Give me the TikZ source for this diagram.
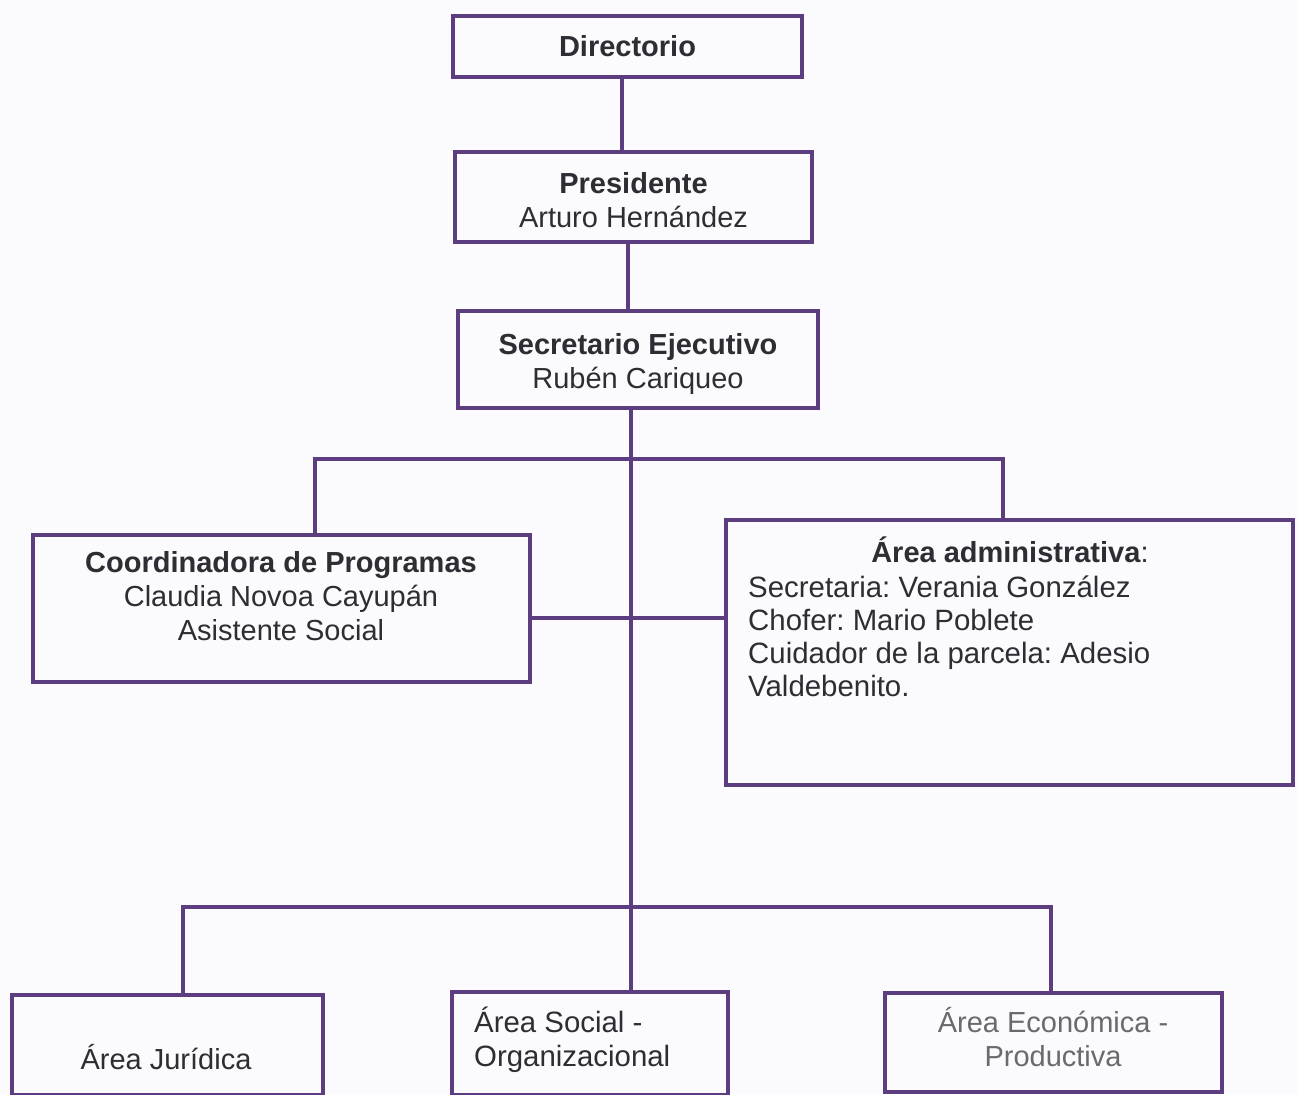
\documentclass[tikz,border=0pt]{standalone}
\usepackage{fontspec}
\setmainfont{Liberation Sans}
\frenchspacing
\definecolor{purp}{RGB}{92,62,128}
\definecolor{tcol}{RGB}{45,45,52}
\definecolor{tgray}{RGB}{105,105,112}
\definecolor{bgcol}{RGB}{251,250,253}
\tikzset{
  box/.style={draw=purp, line width=4pt, inner sep=0pt},
  txt/.style={text=tcol, font=\fontsize{29}{34}\selectfont, inner sep=0pt, align=center},
  ltxt/.style={text=tcol, font=\fontsize{29.4}{34}\selectfont, inner sep=0pt, anchor=base west},
  conn/.style={draw=purp, line width=4pt}
}
\begin{document}
\begin{tikzpicture}[x=1pt,y=-1pt]
\fill[bgcol] (0,0) rectangle (1297,1094);
\clip (0,0) rectangle (1297,1094);
% boxes
\node[box, minimum width=349pt, minimum height=61pt] (dir) at (627.5,46.5) {};
\node[box, minimum width=357pt, minimum height=90pt] (pres) at (633.5,197) {};
\node[box, minimum width=360pt, minimum height=97pt] (sec) at (638,359.5) {};
\node[box, minimum width=497pt, minimum height=147pt] (coord) at (281.5,608.5) {};
\node[box, minimum width=567pt, minimum height=265pt] (adm) at (1009.5,652.5) {};
\node[box, minimum width=311pt, minimum height=100pt] (jur) at (167.5,1045) {};
\node[box, minimum width=276pt, minimum height=103pt] (soc) at (590,1043.5) {};
\node[box, minimum width=337pt, minimum height=99pt] (eco) at (1053.5,1042.5) {};
% texts
\node[txt] (tdir) at (627.5,46) {\textbf{Directorio}};
\node[txt] (tpres) at (633.5,200) {\textbf{Presidente}\\Arturo Hernández};
\node[txt] (tsec) at (638,364) {\textbf{Secretario Ejecutivo}\\Rubén Cariqueo};
\node[txt] (tcoord) at (281,596) {\textbf{Coordinadora de Programas}\\Claudia Novoa Cayupán\\Asistente Social};
\node[txt, anchor=base] (tadm) at (1010,562) {\textbf{Área administrativa}:};
\node[ltxt] (adm1) at (748,597) {Secretaria: Verania González};
\node[ltxt] (adm2) at (748,630) {Chofer: Mario Poblete};
\node[ltxt] (adm3) at (748,663) {Cuidador de la parcela: Adesio};
\node[ltxt] (adm4) at (748,696) {Valdebenito.};
\node[txt] (tjur) at (166,1057) {Área Jurídica};
\node[ltxt] (soc1) at (474,1032) {Área Social -};
\node[ltxt] (soc2) at (474,1066) {Organizacional};
\node[txt, text=tgray] (teco) at (1053,1037) {Área Económica -\\Productiva};
% connectors
\coordinate (tr) at (631,459);
\coordinate (b1l) at (315,459);
\coordinate (b1r) at (1003,459);
\coordinate (mid) at (631,618);
\coordinate (b2l) at (183,907);
\coordinate (b2r) at (1051,907);
\draw[conn] ([xshift=-5.5pt]dir.south) -- ([xshift=-5.5pt]dir.south |- pres.north);
\draw[conn] ([xshift=-5.5pt]pres.south) -- ([xshift=-5.5pt]pres.south |- sec.north);
\draw[conn] (sec.south -| tr) -- (soc.north -| tr);
\draw[conn] (coord.north -| b1l) -- (b1l) -- (b1r) -- (adm.north -| b1r);
\draw[conn] (coord.east |- mid) -- (adm.west |- mid);
\draw[conn] (jur.north -| b2l) -- (b2l) -- (b2r) -- (eco.north -| b2r);
\end{tikzpicture}
\end{document}
